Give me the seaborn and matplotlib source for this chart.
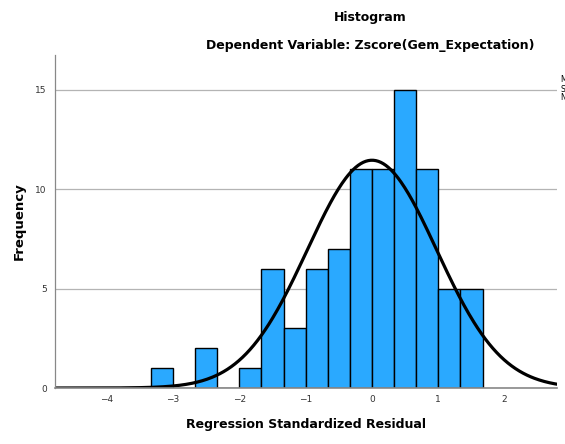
import numpy as np
import pandas as pd
import matplotlib
matplotlib.use("Agg")
import matplotlib.pyplot as plt
import seaborn as sns

# ---- data ----
bin_edges = [-10/3, -3.0, -8/3, -7/3, -2.0, -5/3, -4/3, -1.0, -2/3, -1/3, 0.0,
             1/3, 2/3, 1.0, 4/3, 5/3]
counts = [1, 0, 2, 0, 1, 6, 3, 6, 7, 11, 11, 15, 11, 5, 5]
resid_mean = 0.0
resid_std = 0.975
x_ticks = [-4, -3, -2, -1, 0, 1, 2]
y_ticks = [0, 5, 10, 15]
stats_text = ["Mean = -1.45E-15", "Std. Dev. = 0.988", "N = 84"]

centers = [(a + b) / 2 for a, b in zip(bin_edges[:-1], bin_edges[1:])]
df = pd.DataFrame({"resid": centers, "count": counts})

sns.set_style("white")
plt.rcParams["font.family"] = ["DejaVu Sans"]
plt.rcParams["text.color"] = "black"
plt.rcParams["axes.labelcolor"] = "black"

W, H = 565, 444
fig = plt.figure(figsize=(W / 100, H / 100), dpi=100)
ax = fig.add_axes([55 / W, 1 - 388 / H, (557 - 55) / W, (388 - 55) / H])

ax.yaxis.grid(True, color="#b4b4b4", linewidth=0.9)
ax.set_axisbelow(True)

sns.histplot(data=df, x="resid", weights="count", bins=bin_edges, ax=ax,
             color="#2aa9ff", alpha=1.0, edgecolor="black", linewidth=1.0)

xlim = (-4.78, 2.79)
xs = np.linspace(xlim[0], xlim[1], 400)
bw = bin_edges[1] - bin_edges[0]
n = sum(counts)
ys = n * bw / (resid_std * np.sqrt(2 * np.pi)) * np.exp(-0.5 * ((xs - resid_mean) / resid_std) ** 2)
sns.lineplot(x=xs, y=ys, ax=ax, color="black", linewidth=2.3)

ax.set_xlim(*xlim)
ax.set_ylim(0, 16.75)
ax.set_xticks(x_ticks)
ax.set_xticklabels([str(t).replace("-", "\u2212") for t in x_ticks])
ax.set_yticks(y_ticks)
ax.tick_params(axis="both", length=0, labelsize=6.5, colors="#333333", pad=6)
ax.tick_params(axis="x", pad=5)

for s in ["top", "right"]:
    ax.spines[s].set_visible(False)
ax.spines["left"].set_color("#888888")
ax.spines["bottom"].set_color("#888888")
ax.spines["left"].set_linewidth(0.9)
ax.spines["bottom"].set_linewidth(1.2)

ax.set_xlabel("Regression Standardized Residual", fontsize=9, fontweight="bold", labelpad=10)
ax.set_ylabel("Frequency", fontsize=9.5, fontweight="bold", labelpad=7)

fig.text(370 / W, 1 - 17 / H, "Histogram", ha="center", va="center",
         fontsize=9, fontweight="bold")
fig.text(370 / W, 1 - 45 / H, "Dependent Variable: Zscore(Gem_Expectation)",
         ha="center", va="center", fontsize=9, fontweight="bold")

for i, t in enumerate(stats_text):
    fig.text(561 / W, 1 - (80 + 9 * i) / H, t, ha="left", va="center", fontsize=5.5)

fig.savefig("out.png", dpi=100)
